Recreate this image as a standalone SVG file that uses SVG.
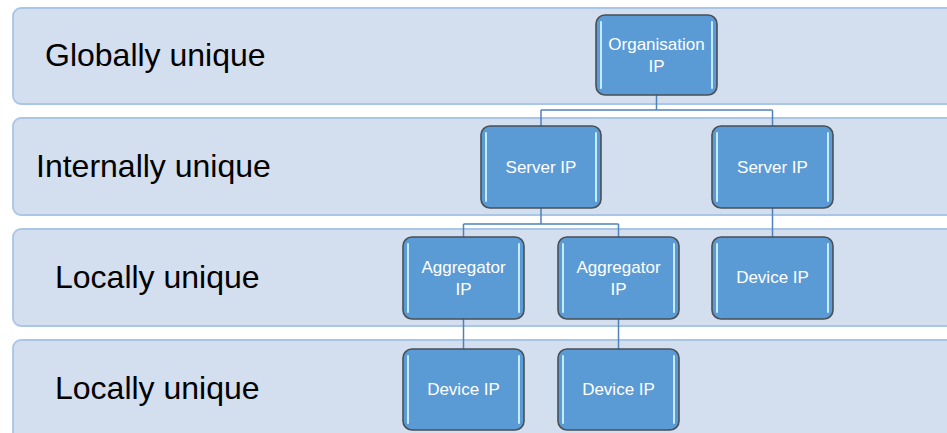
<svg xmlns="http://www.w3.org/2000/svg" width="947" height="433" viewBox="0 0 947 433">
<defs>
<style>
.band{fill:#D3DEEF;stroke:#A9C6E6;stroke-width:1.8}
.blabel{font-family:"Liberation Sans",Arial,sans-serif;font-size:32px;fill:#000}
.node{fill:#5B9BD5;stroke:#4A4F55;stroke-width:1.6}
.hl{stroke:#C4ECFF;stroke-width:2;stroke-linecap:round}
.ntext{font-family:"Liberation Sans",Arial,sans-serif;font-size:17px;fill:#FFFFFF;text-anchor:middle}
.conn{fill:none;stroke:#4F82B8;stroke-width:1.5}
</style>
</defs>
<rect width="947" height="433" fill="#FFFFFF"/>
<g id="bands">
<rect class="band" x="13" y="8" width="950" height="96" rx="8"/>
<rect class="band" x="13" y="118" width="950" height="97" rx="8"/>
<rect class="band" x="13" y="229" width="950" height="97" rx="8"/>
<rect class="band" x="13" y="340" width="950" height="110" rx="8"/>
<text class="blabel" x="45" y="66">Globally unique</text>
<text class="blabel" x="36" y="177">Internally unique</text>
<text class="blabel" x="55" y="288">Locally unique</text>
<text class="blabel" x="55" y="399">Locally unique</text>
</g>
<g id="connectors">
<path class="conn" d="M656.5 95 V110 M541 110 H772.5 M541 110 V126 M772.5 110 V126"/>
<path class="conn" d="M541 208 V224 M463.5 224 H618.5 M463.5 224 V237 M618.5 224 V237"/>
<path class="conn" d="M772.5 208 V237"/>
<path class="conn" d="M463.5 319 V349 M618.5 319 V349"/>
</g>
<g id="org">
<rect class="node" x="596" y="15" width="121" height="80" rx="9"/>
<line class="hl" x1="601" y1="22" x2="601" y2="88"/><line class="hl" x1="712" y1="22" x2="712" y2="88"/>
<text class="ntext" x="656.5" y="50">Organisation</text>
<text class="ntext" x="656.5" y="72">IP</text>
</g>
<g id="server1">
<rect class="node" x="481" y="126" width="120" height="82" rx="9"/>
<line class="hl" x1="486" y1="133" x2="486" y2="201"/><line class="hl" x1="596" y1="133" x2="596" y2="201"/>
<text class="ntext" x="541" y="173">Server IP</text>
</g>
<g id="server2">
<rect class="node" x="712" y="126" width="121" height="82" rx="9"/>
<line class="hl" x1="717" y1="133" x2="717" y2="201"/><line class="hl" x1="828" y1="133" x2="828" y2="201"/>
<text class="ntext" x="772.5" y="173">Server IP</text>
</g>
<g id="agg1">
<rect class="node" x="403" y="237" width="121" height="82" rx="9"/>
<line class="hl" x1="408" y1="244" x2="408" y2="312"/><line class="hl" x1="519" y1="244" x2="519" y2="312"/>
<text class="ntext" x="463.5" y="273">Aggregator</text>
<text class="ntext" x="463.5" y="295">IP</text>
</g>
<g id="agg2">
<rect class="node" x="558" y="237" width="121" height="82" rx="9"/>
<line class="hl" x1="563" y1="244" x2="563" y2="312"/><line class="hl" x1="674" y1="244" x2="674" y2="312"/>
<text class="ntext" x="618.5" y="273">Aggregator</text>
<text class="ntext" x="618.5" y="295">IP</text>
</g>
<g id="device3">
<rect class="node" x="712" y="237" width="121" height="82" rx="9"/>
<line class="hl" x1="717" y1="244" x2="717" y2="312"/><line class="hl" x1="828" y1="244" x2="828" y2="312"/>
<text class="ntext" x="772.5" y="283">Device IP</text>
</g>
<g id="device1">
<rect class="node" x="403" y="349" width="121" height="81" rx="9"/>
<line class="hl" x1="408" y1="356" x2="408" y2="423"/><line class="hl" x1="519" y1="356" x2="519" y2="423"/>
<text class="ntext" x="463.5" y="395">Device IP</text>
</g>
<g id="device2">
<rect class="node" x="558" y="349" width="121" height="81" rx="9"/>
<line class="hl" x1="563" y1="356" x2="563" y2="423"/><line class="hl" x1="674" y1="356" x2="674" y2="423"/>
<text class="ntext" x="618.5" y="395">Device IP</text>
</g>
</svg>
